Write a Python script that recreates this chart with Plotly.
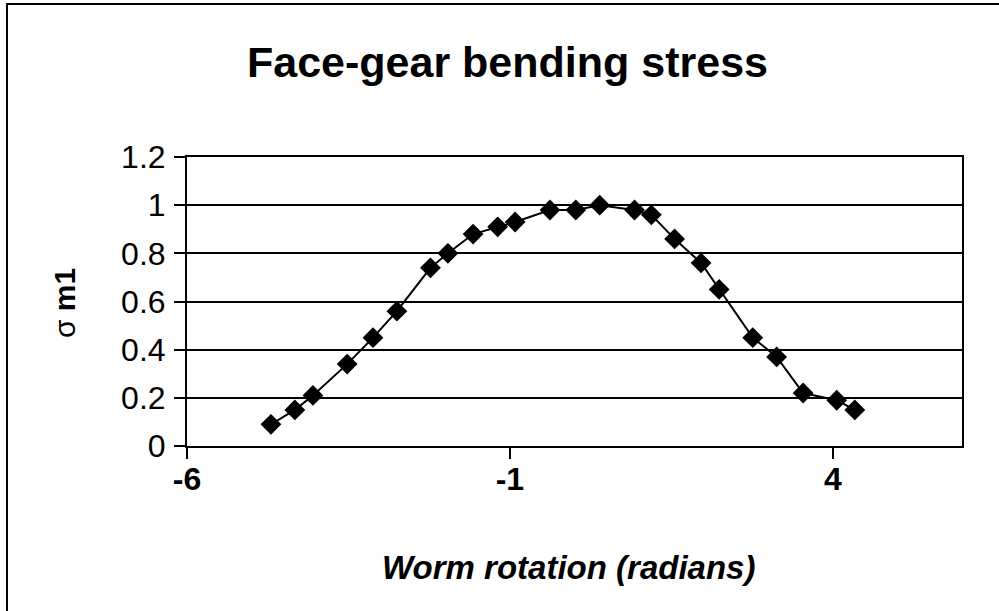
import plotly.graph_objects as go

# Worm rotation angle (radians) and normalised face-gear bending stress
rotation = [-4.70, -4.33, -4.05, -3.52, -3.12, -2.75, -2.23, -1.96, -1.57, -1.19,
            -0.92, -0.38, 0.02, 0.39, 0.93, 1.19, 1.55, 1.96, 2.24, 2.76,
            3.13, 3.54, 4.06, 4.34]
stress = [0.09, 0.15, 0.21, 0.34, 0.45, 0.56, 0.74, 0.80, 0.88, 0.91,
          0.93, 0.98, 0.98, 1.00, 0.98, 0.96, 0.86, 0.76, 0.65, 0.45,
          0.37, 0.22, 0.19, 0.15]

x_ticks = [-6, -1, 4]
x_tick_text = ["<b>-6</b>", "<b>-1</b>", "<b>4</b>"]
y_ticks = [0, 0.2, 0.4, 0.6, 0.8, 1, 1.2]
y_tick_text = ["0", "0.2", "0.4", "0.6", "0.8", "1", "1.2"]

W, H = 999, 611
L, R, T, B = 187, 37, 157, 165
PW, PH = W - L - R, H - T - B


def px(xp):
    return (xp - L) / PW


def py(yp):
    return (H - B - yp) / PH


FONT = "Liberation Sans, Arial, sans-serif"

fig = go.Figure()
fig.add_trace(go.Scatter(
    x=rotation, y=stress, mode="lines+markers",
    line=dict(color="black", width=2),
    marker=dict(symbol="diamond", size=16, color="black"),
    showlegend=False,
))

fig.update_layout(
    width=W, height=H,
    margin=dict(l=L, r=R, t=T, b=B),
    paper_bgcolor="white", plot_bgcolor="white",
    font=dict(family=FONT, color="black"),
    xaxis=dict(
        range=[-6, 6], tickvals=x_ticks, ticktext=x_tick_text,
        showgrid=False, zeroline=False,
        showline=True, linecolor="black", linewidth=2, mirror=True,
        ticks="outside", ticklen=11, tickwidth=1.5, tickcolor="black",
        tickfont=dict(size=32, family=FONT), ticklabelstandoff=-7,
    ),
    yaxis=dict(
        range=[0, 1.2], tickvals=y_ticks, ticktext=y_tick_text,
        showgrid=True, gridcolor="black", gridwidth=1.5, zeroline=False,
        showline=True, linecolor="black", linewidth=2, mirror=True,
        ticks="outside", ticklen=11, tickwidth=1.5, tickcolor="black",
        tickfont=dict(size=32, family=FONT), ticklabelstandoff=2,
    ),
    annotations=[
        dict(text="<b>Face-gear bending stress</b>", xref="paper", yref="paper",
             x=px(507), y=py(62), showarrow=False, xanchor="center", yanchor="middle",
             font=dict(size=43, family=FONT)),
        dict(text="<b><i>Worm rotation (radians)</i></b>", xref="paper", yref="paper",
             x=px(568), y=py(567), showarrow=False, xanchor="center", yanchor="middle",
             font=dict(size=33, family=FONT)),
        dict(text="σ <b>m1</b>", xref="paper", yref="paper",
             x=px(64), y=py(303), showarrow=False, xanchor="center", yanchor="middle",
             textangle=-90, font=dict(size=30, family=FONT)),
    ],
    shapes=[
        dict(type="path", xref="paper", yref="paper",
             path=f"M {px(7)} {py(H + 5)} L {px(7)} {py(4)} L {px(W + 5)} {py(4)}",
             line=dict(color="black", width=2)),
    ],
)

fig.write_html("out.html")
